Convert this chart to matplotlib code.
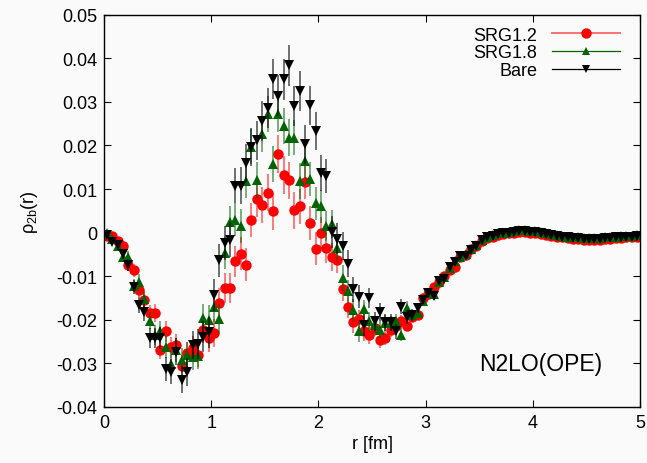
import numpy as np
import matplotlib.pyplot as plt
from matplotlib.lines import Line2D

plt.rcParams['font.family'] = ['Liberation Sans', 'DejaVu Sans']

# bin centres in fm
r = np.arange(0.025, 5.0, 0.05)

srg12 = [-0.0007, -0.0008, -0.0020, -0.0031, -0.0075, -0.0087, -0.0131, -0.0154, -0.0185, -0.0185,
         -0.0269, -0.0227, -0.0263, -0.0258, -0.0306, -0.0277, -0.0265, -0.0280, -0.0223, -0.0242,
         -0.0230, -0.0161, -0.0127, -0.0127, -0.0066, -0.0048, -0.0074, 0.0030, 0.0076, 0.0064,
         0.0092, 0.0049, 0.0180, 0.0132, 0.0120, 0.0051, 0.0060, 0.0117, 0.0022, -0.0037,
         -0.0001, -0.0035, -0.0057, -0.0062, -0.0130, -0.0170, -0.0206, -0.0199, -0.0227, -0.0235,
         -0.0219, -0.0246, -0.0242, -0.0223, -0.0215, -0.0204, -0.0214, -0.0193, -0.0189, -0.0150,
         -0.0140, -0.0124, -0.0114, -0.0099, -0.0085, -0.0078, -0.0055, -0.0052, -0.0038, -0.0030,
         -0.0020, -0.0013, -0.0009, -0.0006, -0.0004, -0.0002, 0.0000, 0.0001, 0.0001, 0.0000,
         -0.0001, -0.0003, -0.0005, -0.0007, -0.0009, -0.0011, -0.0013, -0.0014, -0.0015, -0.0016,
         -0.0016, -0.0016, -0.0016, -0.0015, -0.0014, -0.0013, -0.0012, -0.0011, -0.0011, -0.0010]
srg12_err = [0.0005, 0.0007, 0.0009, 0.0011, 0.0013, 0.0014, 0.0016, 0.0017, 0.0019, 0.0020,
             0.0022, 0.0023, 0.0024, 0.0025, 0.0026, 0.0027, 0.0028, 0.0029, 0.0030, 0.0031,
             0.0032, 0.0033, 0.0034, 0.0035, 0.0036, 0.0037, 0.0038, 0.0039, 0.0040, 0.0041,
             0.0042, 0.0043, 0.0043, 0.0043, 0.0042, 0.0042, 0.0041, 0.0040, 0.0039, 0.0038,
             0.0036, 0.0034, 0.0032, 0.0030, 0.0028, 0.0026, 0.0024, 0.0022, 0.0021, 0.0020,
             0.0019, 0.0018, 0.0017, 0.0016, 0.0015, 0.0014, 0.0013, 0.0011, 0.0010, 0.0009,
             0.0008, 0.0007, 0.0006, 0.0005, 0.0005, 0.0004, 0.0004, 0.0003, 0.0003, 0.0003,
             0.0003, 0.0003, 0.0003, 0.0003, 0.0003, 0.0003, 0.0003, 0.0003, 0.0003, 0.0003,
             0.0002, 0.0002, 0.0002, 0.0002, 0.0002, 0.0002, 0.0002, 0.0002, 0.0002, 0.0002,
             0.0002, 0.0002, 0.0002, 0.0002, 0.0002, 0.0002, 0.0002, 0.0002, 0.0002, 0.0002]

srg18 = [-0.0001, -0.0014, -0.0031, -0.0056, -0.0056, -0.0122, -0.0113, -0.0152, -0.0202, -0.0235,
         -0.0227, -0.0262, -0.0301, -0.0270, -0.0292, -0.0281, -0.0286, -0.0283, -0.0196, -0.0200,
         -0.0171, -0.0198, -0.0047, 0.0024, 0.0030, 0.0015, 0.0119, 0.0197, 0.0120, 0.0226,
         0.0272, 0.0157, 0.0272, 0.0245, 0.0218, 0.0218, 0.0118, 0.0164, 0.0122, 0.0067,
         0.0060, 0.0015, 0.0020, -0.0035, -0.0104, -0.0135, -0.0177, -0.0227, -0.0176, -0.0204,
         -0.0212, -0.0223, -0.0208, -0.0208, -0.0204, -0.0234, -0.0172, -0.0190, -0.0185, -0.0157,
         -0.0138, -0.0142, -0.0113, -0.0102, -0.0082, -0.0066, -0.0055, -0.0050, -0.0037, -0.0028,
         -0.0016, -0.0009, -0.0005, -0.0002, 0.0000, 0.0002, 0.0004, 0.0005, 0.0005, 0.0004,
         0.0003, 0.0001, -0.0001, -0.0003, -0.0005, -0.0007, -0.0009, -0.0010, -0.0011, -0.0012,
         -0.0012, -0.0012, -0.0012, -0.0011, -0.0010, -0.0009, -0.0008, -0.0007, -0.0007, -0.0006]
srg18_err = [0.0005, 0.0007, 0.0009, 0.0011, 0.0013, 0.0015, 0.0017, 0.0018, 0.0020, 0.0022,
             0.0023, 0.0025, 0.0026, 0.0027, 0.0028, 0.0029, 0.0030, 0.0031, 0.0032, 0.0033,
             0.0034, 0.0035, 0.0036, 0.0037, 0.0038, 0.0039, 0.0040, 0.0040, 0.0041, 0.0041,
             0.0042, 0.0042, 0.0042, 0.0042, 0.0042, 0.0041, 0.0041, 0.0040, 0.0039, 0.0038,
             0.0037, 0.0035, 0.0033, 0.0031, 0.0029, 0.0027, 0.0025, 0.0023, 0.0022, 0.0021,
             0.0020, 0.0019, 0.0018, 0.0017, 0.0016, 0.0015, 0.0014, 0.0012, 0.0010, 0.0009,
             0.0008, 0.0007, 0.0006, 0.0005, 0.0005, 0.0004, 0.0004, 0.0003, 0.0003, 0.0003,
             0.0003, 0.0003, 0.0003, 0.0003, 0.0003, 0.0003, 0.0003, 0.0003, 0.0003, 0.0003,
             0.0002, 0.0002, 0.0002, 0.0002, 0.0002, 0.0002, 0.0002, 0.0002, 0.0002, 0.0002,
             0.0002, 0.0002, 0.0002, 0.0002, 0.0002, 0.0002, 0.0002, 0.0002, 0.0002, 0.0002]

bare = [-0.0005, -0.0021, -0.0029, -0.0049, -0.0074, -0.0124, -0.0166, -0.0183, -0.0242, -0.0242,
        -0.0242, -0.0313, -0.0319, -0.0273, -0.0338, -0.0319, -0.0258, -0.0256, -0.0239, -0.0229,
        -0.0144, -0.0064, -0.0024, -0.0016, 0.0108, 0.0108, 0.0160, 0.0197, 0.0212, 0.0256,
        0.0285, 0.0352, 0.0314, 0.0352, 0.0384, 0.0291, 0.0325, 0.0203, 0.0292, 0.0233,
        0.0136, 0.0130, 0.0001, -0.0014, -0.0031, -0.0071, -0.0130, -0.0147, -0.0212, -0.0150,
        -0.0204, -0.0183, -0.0206, -0.0206, -0.0227, -0.0170, -0.0193, -0.0189, -0.0173, -0.0154,
        -0.0139, -0.0146, -0.0112, -0.0107, -0.0080, -0.0068, -0.0053, -0.0053, -0.0039, -0.0030,
        -0.0018, -0.0011, -0.0007, -0.0004, -0.0002, 0.0000, 0.0002, 0.0003, 0.0003, 0.0002,
        0.0001, -0.0001, -0.0003, -0.0005, -0.0007, -0.0009, -0.0011, -0.0012, -0.0013, -0.0014,
        -0.0014, -0.0014, -0.0014, -0.0013, -0.0012, -0.0011, -0.0010, -0.0009, -0.0009, -0.0008]
bare_err = [0.0006, 0.0008, 0.0010, 0.0012, 0.0014, 0.0016, 0.0018, 0.0020, 0.0022, 0.0024,
            0.0026, 0.0028, 0.0029, 0.0030, 0.0031, 0.0032, 0.0033, 0.0034, 0.0035, 0.0036,
            0.0037, 0.0038, 0.0039, 0.0040, 0.0041, 0.0042, 0.0043, 0.0044, 0.0045, 0.0045,
            0.0046, 0.0046, 0.0047, 0.0047, 0.0047, 0.0046, 0.0046, 0.0045, 0.0044, 0.0043,
            0.0041, 0.0039, 0.0037, 0.0035, 0.0033, 0.0031, 0.0029, 0.0027, 0.0025, 0.0023,
            0.0022, 0.0021, 0.0020, 0.0019, 0.0018, 0.0017, 0.0016, 0.0014, 0.0012, 0.0010,
            0.0009, 0.0008, 0.0007, 0.0006, 0.0005, 0.0005, 0.0004, 0.0004, 0.0003, 0.0003,
            0.0003, 0.0003, 0.0003, 0.0003, 0.0003, 0.0003, 0.0003, 0.0003, 0.0003, 0.0003,
            0.0002, 0.0002, 0.0002, 0.0002, 0.0002, 0.0002, 0.0002, 0.0002, 0.0002, 0.0002,
            0.0002, 0.0002, 0.0002, 0.0002, 0.0002, 0.0002, 0.0002, 0.0002, 0.0002, 0.0002]

labels = ["SRG1.2", "SRG1.8", "Bare"]

fig = plt.figure(figsize=(6.47, 4.64), dpi=100, facecolor='#fafafa')
ax = fig.add_axes([0.161, 0.121, 0.828, 0.845])
ax.set_facecolor('#fafafa')

ax.errorbar(r, srg12, yerr=srg12_err, fmt='none', ecolor=(1, 0, 0, 0.55), elinewidth=1.3, capsize=0)
ax.plot(r, srg12, 'o', color='red', markersize=7.5, markeredgewidth=0)
ax.errorbar(r, srg18, yerr=srg18_err, fmt='none', ecolor=(0, 0.39, 0, 0.55), elinewidth=1.3, capsize=0)
ax.plot(r, srg18, '^', color='#006400', markersize=7, markeredgewidth=0)
ax.errorbar(r, bare, yerr=bare_err, fmt='none', ecolor=(0, 0, 0, 0.6), elinewidth=1.3, capsize=0)
ax.plot(r, bare, 'v', color='black', markersize=7, markeredgewidth=0)

handles = [Line2D([], [], color=(1, 0, 0, 0.55), lw=1.4, marker='o', markersize=7.5,
                  markerfacecolor='red', markeredgewidth=0),
           Line2D([], [], color='#006400', lw=0.9, marker='^', markersize=6,
                  markeredgewidth=0),
           Line2D([], [], color='black', lw=0.9, marker='v', markersize=6,
                  markeredgewidth=0)]
ax.legend(handles, labels, loc='upper right', frameon=False, markerfirst=False,
          fontsize=13, handlelength=3.8, labelspacing=0.05, borderpad=0.15,
          handletextpad=0.8, bbox_to_anchor=(0.985, 1.0))

ax.text(0.815, 0.11, "N2LO(OPE)", transform=ax.transAxes, fontsize=16.5,
        ha='center', va='center')

ax.set_xlim(0, 5)
ax.set_ylim(-0.04, 0.05)
ax.set_xticks([0, 1, 2, 3, 4, 5])
ax.set_xticklabels(['0', '1', '2', '3', '4', '5'])
ax.set_yticks(np.arange(-0.04, 0.0501, 0.01))
ax.set_yticklabels(['-0.04', '-0.03', '-0.02', '-0.01', '0', '0.01', '0.02', '0.03', '0.04', '0.05'])
ax.tick_params(direction='in', length=5, width=0.8, top=True, right=True, labelsize=13, pad=5)
for s in ax.spines.values():
    s.set_linewidth(1.0)

ax.set_xlabel("r [fm]", fontsize=13, labelpad=3)
ax.set_ylabel(r"ρ$_{\mathregular{2b}}$(r)", fontsize=13, labelpad=12)

fig.savefig("out.png", dpi=100, facecolor=fig.get_facecolor())
